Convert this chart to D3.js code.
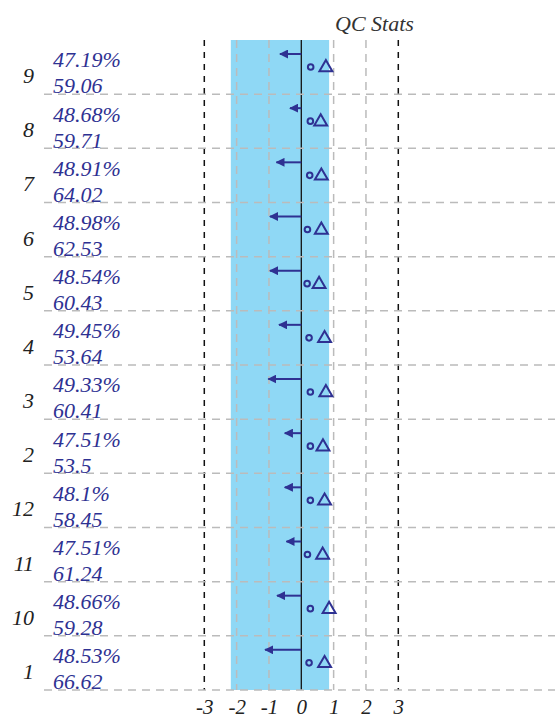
<!DOCTYPE html>
<html>
<head>
<meta charset="utf-8">
<script src="https://cdn.jsdelivr.net/npm/d3@7/dist/d3.min.js"></script>
<style>
	body { margin: 0; background: #fff; }
	text { font-family: "Liberation Serif", "DejaVu Serif", serif; font-style: italic; }
</style>
</head>
<body>
<div id="chart"></div>
<script>
// QC stats plot, rows top to bottom
var categories = ['9', '8', '7', '6', '5', '4', '3', '2', '12', '11', '10', '1'];
var percents = ['47.19%', '48.68%', '48.91%', '48.98%', '48.54%', '49.45%', '49.33%', '47.51%', '48.1%', '47.51%', '48.66%', '48.53%'];
var values = ['59.06', '59.71', '64.02', '62.53', '60.43', '53.64', '60.41', '53.5', '58.45', '61.24', '59.28', '66.62'];
var arrows = [-0.66, -0.35, -0.77, -0.97, -0.97, -0.69, -1.02, -0.51, -0.51, -0.46, -0.75, -1.12];
var circles = [0.29, 0.28, 0.26, 0.19, 0.18, 0.24, 0.28, 0.28, 0.28, 0.19, 0.28, 0.24];
var triangles = [0.76, 0.60, 0.62, 0.62, 0.55, 0.72, 0.76, 0.67, 0.72, 0.66, 0.86, 0.72];
var ticks = [-3, -2, -1, 0, 1, 2, 3];
var shaded = [-2.18, 0.86];

var W = 555, H = 720,
	navy = '#2e3192';

var svg = d3.select('#chart').append('svg')
	.attr('width', W).attr('height', H);

var x = d3.scaleLinear().domain([-3, 3]).range([204.3, 398.3]);
var y = d3.scaleBand().domain(categories).range([40, 690]);
var bh = y.bandwidth();

var rows = categories.map(function (c, i) {
	return {cat: c, pct: percents[i], val: values[i], arrow: arrows[i], circ: circles[i], tri: triangles[i]};
});

// blue band
svg.append('rect')
	.attr('x', x(shaded[0])).attr('y', y.range()[0])
	.attr('width', x(shaded[1]) - x(shaded[0]))
	.attr('height', y.range()[1] - y.range()[0])
	.attr('fill', '#8fd8f5');

// vertical grid
svg.selectAll('line.vgrid').data(ticks).enter().append('line')
	.attr('class', 'vgrid')
	.attr('x1', function (d) { return x(d); })
	.attr('x2', function (d) { return x(d); })
	.attr('y1', y.range()[0]).attr('y2', y.range()[1])
	.attr('stroke', function (d) { return Math.abs(d) === 3 || d === 0 ? '#111' : '#bbb'; })
	.attr('stroke-width', function (d) { return d === 0 ? 1.3 : 1.5; })
	.attr('stroke-dasharray', function (d) { return d === 0 ? null : (Math.abs(d) === 3 ? '6,6' : '8,6'); });

// horizontal row separators
svg.selectAll('line.hgrid').data(categories).enter().append('line')
	.attr('class', 'hgrid')
	.attr('x1', 44).attr('x2', W)
	.attr('y1', function (d) { return y(d) + bh; })
	.attr('y2', function (d) { return y(d) + bh; })
	.attr('stroke', '#bbb').attr('stroke-width', 1.5)
	.attr('stroke-dasharray', '8,6');

// arrowhead
svg.append('defs').append('marker')
	.attr('id', 'head')
	.attr('viewBox', '0 0 10 10')
	.attr('refX', 9).attr('refY', 5)
	.attr('markerWidth', 4.5).attr('markerHeight', 4.5)
	.attr('markerUnits', 'strokeWidth')
	.attr('orient', 'auto')
	.append('path').attr('d', 'M0,0 L10,5 L0,10 z').attr('fill', navy);

var g = svg.selectAll('g.row').data(rows).enter().append('g')
	.attr('class', 'row')
	.attr('transform', function (d) { return 'translate(0,' + y(d.cat) + ')'; });

g.append('line')
	.attr('x1', x(0)).attr('x2', function (d) { return x(d.arrow); })
	.attr('y1', 14).attr('y2', 14)
	.attr('stroke', navy).attr('stroke-width', 2)
	.attr('marker-end', 'url(#head)');

g.append('circle')
	.attr('cx', function (d) { return x(d.circ); })
	.attr('cy', 27).attr('r', 2.8)
	.attr('fill', 'none').attr('stroke', navy).attr('stroke-width', 2);

g.append('path')
	.attr('d', d3.symbol().type(d3.symbolTriangle).size(72))
	.attr('transform', function (d) { return 'translate(' + x(d.tri) + ',27.5)'; })
	.attr('fill', 'none').attr('stroke', navy).attr('stroke-width', 2);

// labels
g.append('text').text(function (d) { return d.cat; })
	.attr('x', 34).attr('y', 43)
	.attr('text-anchor', 'end')
	.attr('font-size', 22).attr('fill', '#222');

g.append('text').text(function (d) { return d.pct; })
	.attr('x', 53).attr('y', 27.4)
	.attr('font-size', 22).attr('fill', navy);

g.append('text').text(function (d) { return d.val; })
	.attr('x', 53).attr('y', 53.4)
	.attr('font-size', 22).attr('fill', navy);

// x axis
var axis = d3.axisBottom(x).tickValues(ticks).tickSize(0).tickPadding(0)
	.tickFormat(function (d) { return String(d); });
var ax = svg.append('g').attr('transform', 'translate(0,699)').call(axis);
ax.select('.domain').remove();
ax.selectAll('text')
	.attr('font-size', 21).attr('fill', '#222')
	.attr('font-family', '"Liberation Serif", serif')
	.attr('dy', '0.72em');

// title
svg.append('text').text('QC Stats')
	.attr('x', 335).attr('y', 31)
	.attr('font-size', 22).attr('fill', '#333');
</script>
</body>
</html>
